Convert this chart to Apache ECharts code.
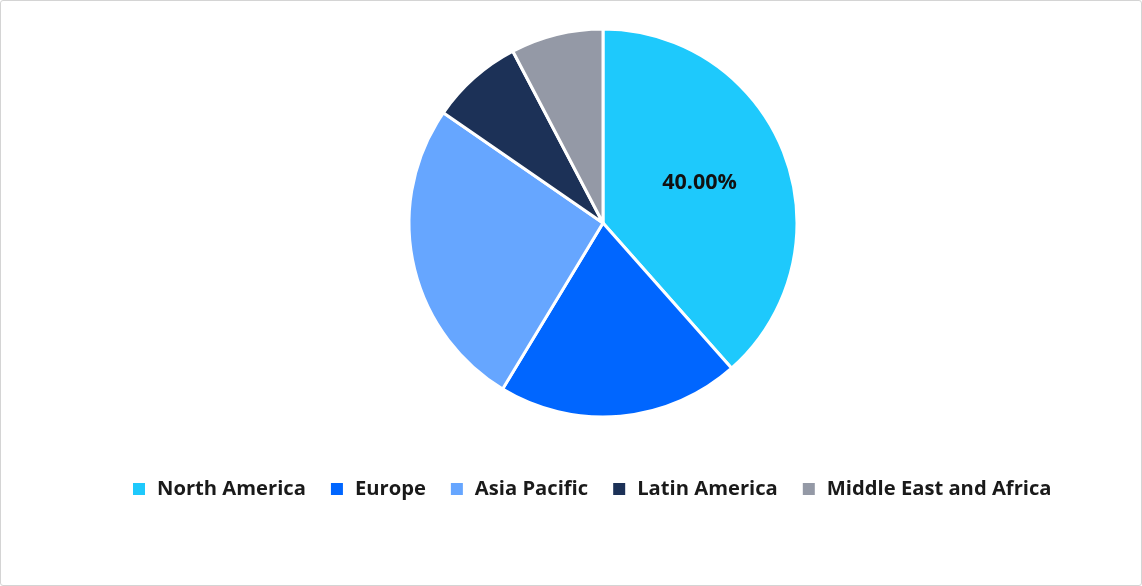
<!DOCTYPE html>
<html><head><meta charset="utf-8">
<script src="https://cdn.jsdelivr.net/npm/echarts@6/dist/echarts.min.js"></script>
<style>
html,body{margin:0;padding:0;background:#fff;}
#wrap{position:absolute;left:0;top:0;width:1140px;height:584px;border:1px solid #d4d4d4;border-radius:3px;}
#c{width:1140px;height:584px;}
</style></head>
<body><div id="wrap"><div id="c"></div></div>
<script>
const categories = ['North America','Europe','Asia Pacific','Latin America','Middle East and Africa'];
const values = [40, 21, 27, 8, 8];
const colors = ['#1ec9fc','#0066ff','#66a6ff','#1c3157','#9499a6'];
const labelShown = [true, false, false, false, false];

const chart = echarts.init(document.getElementById('c'));
chart.setOption({
  animation:false,
  color: colors,
  legend:{
    top: 473, left:125,
    itemWidth:14, itemHeight:14, itemGap:23,
    icon:'rect',
    textStyle:{fontFamily:'Open Sans', fontWeight:'bold', fontSize:20.2, color:'#1a1a1a', padding:[0,0,0,6]},
    data: categories
  },
  series:[{
    type:'pie',
    center:[602,222],
    radius:194,
    startAngle:90,
    clockwise:true,
    itemStyle:{borderColor:'#fff', borderWidth:3},
    label:{show:false},
    labelLine:{show:false},
    data: categories.map((n,i)=>({
      name:n, value:values[i],
      label:{show:labelShown[i], position:'inside', formatter: p=>p.value.toFixed(2)+'%',
        fontFamily:'Open Sans', fontWeight:'bold', fontSize:21.5, color:'#111', offset:[3,-5]}
    }))
  }]
});
</script></body></html>
